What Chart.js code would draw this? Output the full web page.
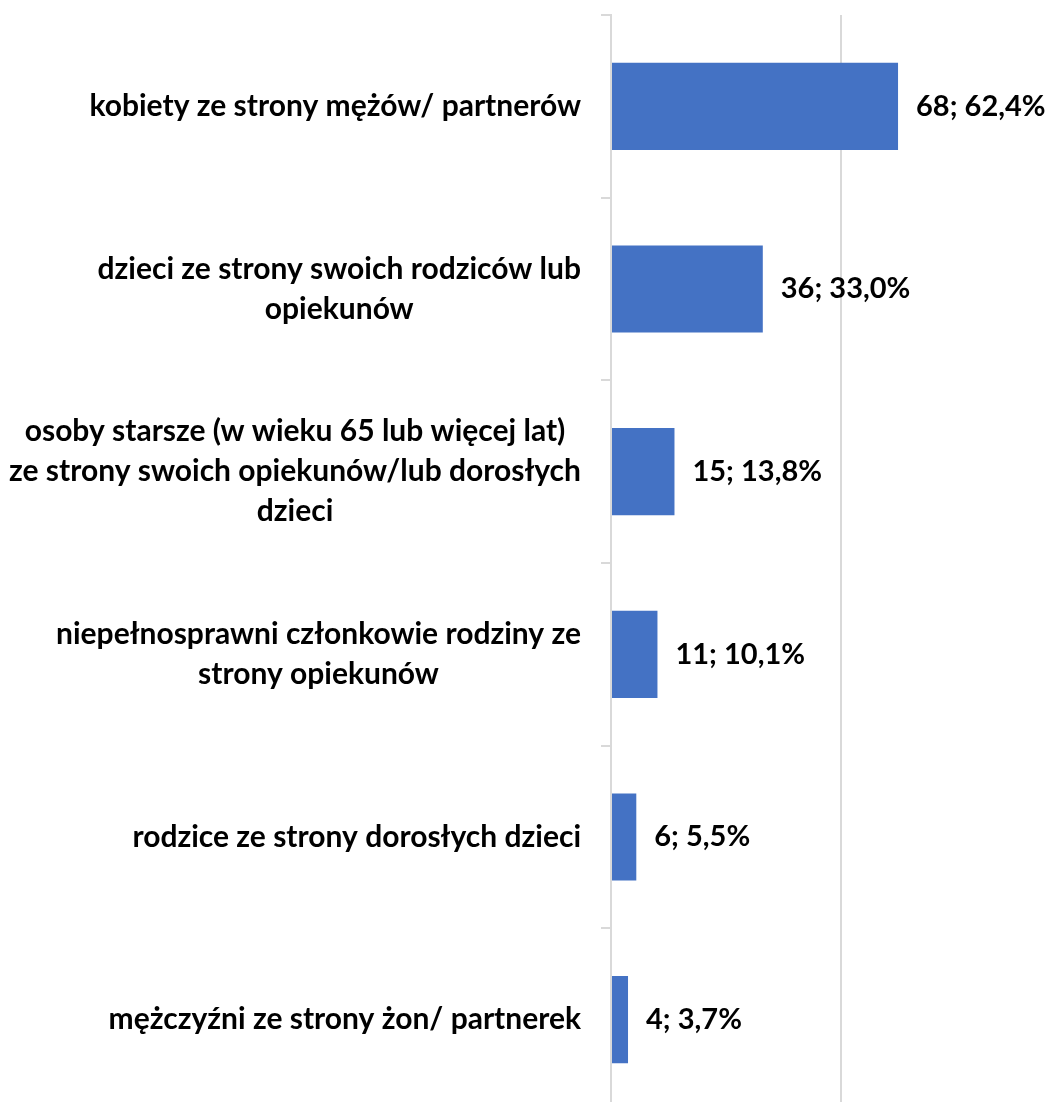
<!DOCTYPE html>
<html>
<head>
<meta charset="utf-8">
<script src="https://cdn.jsdelivr.net/npm/chart.js@4"></script>
<style>
html,body{margin:0;padding:0;overflow:hidden;background:#fff;}
#wrap{position:absolute;left:0;top:0;width:1071px;height:1111px;}
</style>
</head>
<body>
<div id="wrap"><canvas id="c" width="1071" height="1111"></canvas></div>
<script>
const categories = [
  ["kobiety ze strony mężów/ partnerów"],
  ["dzieci ze strony swoich rodziców lub", "opiekunów"],
  ["osoby starsze (w wieku 65 lub więcej lat)", "ze strony swoich opiekunów/lub dorosłych", "dzieci"],
  ["niepełnosprawni członkowie rodziny ze", "strony opiekunów"],
  ["rodzice ze strony dorosłych dzieci"],
  ["mężczyźni ze strony żon/ partnerek"]
];
const counts = [68, 36, 15, 11, 6, 4];
const percents = [62.4, 33.0, 13.8, 10.1, 5.5, 3.7];

const FONT_FAMILY = "Lato, 'Noto Sans', sans-serif";
const FONT_SIZE = 30;
const DATA_FONT_SIZE = 29;
const LINE_H = 40;

const labelPlugin = {
  id: 'labels',
  afterDraw(chart) {
    const ctx = chart.ctx;
    const yScale = chart.scales.y;
    ctx.save();
    ctx.font = `bold ${FONT_SIZE}px ${FONT_FAMILY}`;
    ctx.fillStyle = '#000';
    ctx.textBaseline = 'middle';
    const rightEdge = chart.chartArea.left - 30;
    categories.forEach((lines, i) => {
      const cy = yScale.getPixelForValue(i);
      const maxW = Math.max(...lines.map(l => ctx.measureText(l).width));
      const cx = rightEdge - maxW / 2;
      ctx.textAlign = 'center';
      const startY = cy - (lines.length - 1) * LINE_H / 2;
      lines.forEach((l, j) => ctx.fillText(l, cx, startY + j * LINE_H));
    });
    ctx.font = `bold ${DATA_FONT_SIZE}px ${FONT_FAMILY}`;
    const meta = chart.getDatasetMeta(0);
    ctx.textAlign = 'left';
    meta.data.forEach((bar, i) => {
      const txt = counts[i] + '; ' + percents[i].toFixed(1).replace('.', ',') + '%';
      ctx.fillText(txt, bar.x + 18, bar.y);
    });
    ctx.restore();
  }
};

new Chart(document.getElementById('c'), {
  type: 'bar',
  data: {
    labels: categories.map(l => l.join(' ')),
    datasets: [{
      data: percents,
      backgroundColor: '#4472C4',
      borderWidth: 0,
      categoryPercentage: 1,
      barPercentage: 0.477
    }]
  },
  options: {
    indexAxis: 'y',
    responsive: false,
    animation: false,
    layout: { padding: { top: 15, left: 0, right: 0, bottom: 0 } },
    plugins: { legend: { display: false }, tooltip: { enabled: false } },
    scales: {
      x: {
        min: 0, max: 100,
        ticks: { display: false, stepSize: 50 },
        grid: { color: '#d9d9d9', lineWidth: 2, drawTicks: false },
        border: { display: false }
      },
      y: {
        offset: true,
        ticks: { display: false },
        grid: { offset: true, drawOnChartArea: false, tickLength: 10, color: '#d9d9d9', lineWidth: 2 },
        border: { color: '#d9d9d9', width: 2 },
        afterFit(scale) { scale.width = 611; }
      }
    }
  },
  plugins: [labelPlugin]
});
</script>
</body>
</html>
